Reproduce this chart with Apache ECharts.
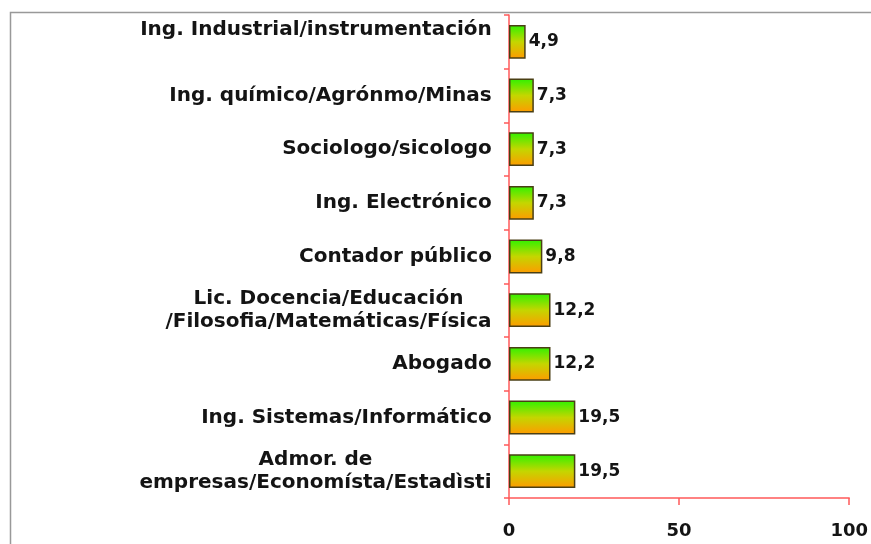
<!DOCTYPE html>
<html>
<head>
<meta charset="utf-8">
<script src="https://cdn.jsdelivr.net/npm/echarts@6/dist/echarts.min.js"></script>
<style>
  html, body { margin: 0; padding: 0; background: #fff; }
  #chart { width: 871px; height: 544px; }
</style>
</head>
<body>
<div id="chart"></div>
<script>
// top to bottom
const categories = [
  'Ing. Industrial/instrumentación',
  'Ing. químico/Agrónmo/Minas',
  'Sociologo/sicologo',
  'Ing. Electrónico',
  'Contador público',
  'Lic. Docencia/Educación\n/Filosofia/Matemáticas/Física',
  'Abogado',
  'Ing. Sistemas/Informático',
  'Admor. de\nempresas/Economísta/Estadìsti',
];
const values = [4.9, 7.3, 7.3, 7.3, 9.8, 12.2, 12.2, 19.5, 19.5];
const xTicks = [0, 50, 100];

const FONT = 'DejaVu Sans';
const LABEL_SIZE = 20;
const RED = '#ff5a5a';
const INK = '#141414';

const chart = echarts.init(document.getElementById('chart'), null, { renderer: 'canvas' });

// multi-line labels: lines centred inside a box as wide as the longest line,
// the box itself right-aligned against the axis
const ctx = document.createElement('canvas').getContext('2d');
ctx.font = `bold ${LABEL_SIZE}px "${FONT}"`;
const rich = {};
categories.forEach((c, i) => {
  const w = Math.max(...c.split('\n').map(l => ctx.measureText(l).width));
  rich['c' + i] = {
    color: INK, fontFamily: FONT, fontWeight: 'bold', fontSize: LABEL_SIZE,
    lineHeight: 23, width: Math.ceil(w), align: 'center',
  };
});
const labelText = (v, i) => v.split('\n').map(l => `{c${i}|${l}}`).join('\n');

chart.setOption({
  backgroundColor: '#fff',
  animation: false,
  graphic: [
    // grey frame of the original picture
    { type: 'rect', shape: { x: 10.5, y: 12.5, width: 900, height: 600 }, style: { fill: null, stroke: '#999', lineWidth: 1.5 }, silent: true },
  ],
  grid: { left: 509, right: 19, top: 15, bottom: 46 },
  xAxis: {
    type: 'value',
    min: xTicks[0],
    max: xTicks[xTicks.length - 1],
    interval: xTicks[1] - xTicks[0],
    splitLine: { show: false },
    axisLine: { show: true, lineStyle: { color: RED, width: 1.5 } },
    axisTick: { show: true, length: 7, lineStyle: { color: RED, width: 1.5 } },
    axisLabel: { color: INK, fontFamily: FONT, fontWeight: 'bold', fontSize: 18, margin: 24 },
  },
  yAxis: {
    type: 'category',
    inverse: true,
    data: categories.map((c, i) => i === 0 ? { value: c, textStyle: { padding: [0, 0, 24, 0] } } : c),
    axisLine: { show: true, lineStyle: { color: RED, width: 1.5 } },
    axisTick: { show: true, length: 5, alignWithLabel: false, lineStyle: { color: RED, width: 1.5 } },
    axisLabel: {
      align: 'right', margin: 17,
      formatter: labelText,
      rich,
    },
  },
  series: [{
    type: 'bar',
    data: values,
    barWidth: '63%',
    itemStyle: {
      color: new echarts.graphic.LinearGradient(0, 0, 0, 1, [
        { offset: 0, color: '#2ef200' },
        { offset: 0.5, color: '#c4d600' },
        { offset: 1, color: '#ff9a00' },
      ]),
      borderColor: '#4a3f14',
      borderWidth: 1.5,
    },
    label: {
      show: true,
      position: 'right',
      distance: 3,
      color: INK,
      fontFamily: FONT,
      fontWeight: 'bold',
      fontSize: 17,
      formatter: p => String(p.value).replace('.', ','),
    },
  }],
});
</script>
</body>
</html>
